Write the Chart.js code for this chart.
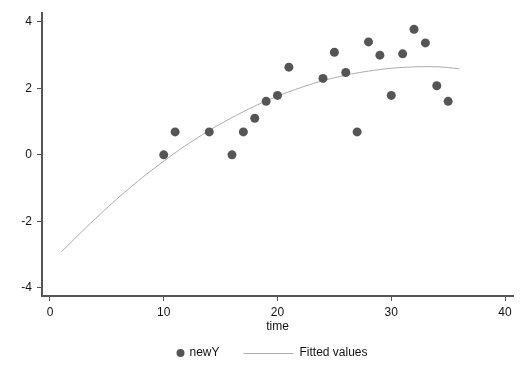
<!DOCTYPE html>
<html>
<head>
<meta charset="utf-8">
<script src="https://cdn.jsdelivr.net/npm/chart.js@4"></script>
<style>
  html, body { margin: 0; padding: 0; background: #fff; }
  #wrap { width: 527px; height: 384px; }
</style>
</head>
<body>
<div id="wrap"><canvas id="fitChart"></canvas></div>
<script>
const timeVals = [10, 11, 14, 16, 17, 18, 19, 20, 21, 24, 25, 26, 27, 28, 29, 30, 31, 32, 33, 34, 35];
const newY = [0, 0.69, 0.69, 0, 0.69, 1.10, 1.61, 1.79, 2.64, 2.30, 3.09, 2.48, 0.69, 3.40, 3.00, 1.79, 3.04, 3.78, 3.37, 2.08, 1.61];
const fitTime = [1, 4, 7, 10, 13, 16, 19, 22, 25, 28, 31, 34, 36];
const fitValues = [-2.92, -1.92, -1.0, -0.19, 0.52, 1.12, 1.62, 2.02, 2.32, 2.52, 2.63, 2.65, 2.59];
const legendNames = ['newY', 'Fitted values'];

const font = { family: '"Liberation Sans", Arial, sans-serif', size: 12 };
const axisColor = '#555';

// legend drawn by hand: dot + line sample, like the original
const bottomLegend = {
    id: 'bottomLegend',
    afterDraw(chart) {
        const ctx = chart.ctx;
        const area = chart.chartArea;
        const cx = (area.left + area.right) / 2;
        const y = area.bottom + 57;
        ctx.save();
        ctx.fillStyle = '#555';
        ctx.beginPath();
        ctx.arc(cx - 97, y, 4, 0, Math.PI * 2);
        ctx.fill();
        ctx.strokeStyle = '#aaa';
        ctx.lineWidth = 1;
        ctx.beginPath();
        ctx.moveTo(cx - 34, y + 0.5);
        ctx.lineTo(cx + 16, y + 0.5);
        ctx.stroke();
        ctx.fillStyle = '#111';
        ctx.font = font.size + 'px ' + font.family;
        ctx.textBaseline = 'middle';
        ctx.fillText(legendNames[0], cx - 88, y);
        ctx.fillText(legendNames[1], cx + 22, y);
        ctx.restore();
    }
};

new Chart(document.getElementById('fitChart'), {
    type: 'scatter',
    data: {
        datasets: [{
            label: legendNames[0],
            data: timeVals.map((t, i) => ({ x: t, y: newY[i] })),
            backgroundColor: '#555',
            borderWidth: 0,
            pointRadius: 4.5,
            order: 0
        }, {
            type: 'line',
            label: legendNames[1],
            data: fitTime.map((t, i) => ({ x: t, y: fitValues[i] })),
            borderColor: '#aaa',
            borderWidth: 1,
            pointRadius: 0,
            tension: 0.4,
            fill: false,
            order: 1
        }]
    },
    options: {
        responsive: true,
        maintainAspectRatio: false,
        animation: false,
        layout: { padding: { top: 13, right: 14, bottom: 50, left: 0 } },
        plugins: {
            legend: { display: false },
            tooltip: { enabled: false }
        },
        scales: {
            x: {
                type: 'linear',
                min: -0.7,
                max: 40.7,
                afterFit: s => { s.height = 38; },
                ticks: { stepSize: 10, includeBounds: false, color: '#111', font: font, padding: 4, maxRotation: 0 },
                grid: { drawOnChartArea: false, drawTicks: true, tickLength: 5, color: axisColor },
                border: { color: axisColor, width: 2 },
                title: { display: true, text: 'time', color: '#111', font: font, padding: 0 }
            },
            y: {
                min: -4.25,
                max: 4.27,
                afterFit: s => { s.width = 42; },
                ticks: { stepSize: 2, includeBounds: false, color: '#111', font: font, padding: 5 },
                grid: { drawOnChartArea: false, drawTicks: true, tickLength: 5, color: axisColor },
                border: { color: axisColor, width: 2 }
            }
        }
    },
    plugins: [bottomLegend]
});
</script>
</body>
</html>
